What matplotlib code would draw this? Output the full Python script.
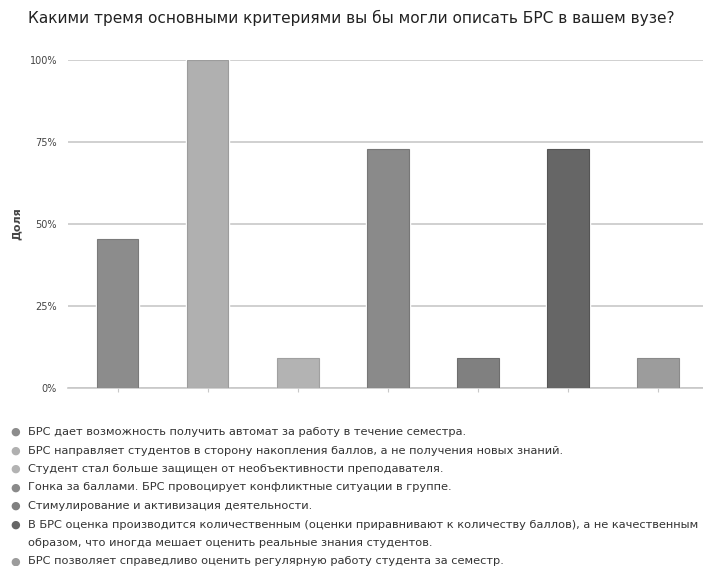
import matplotlib.pyplot as plt
from matplotlib.ticker import PercentFormatter

# Survey answers (share of respondents)
answers = [
    "БРС дает возможность получить автомат за работу в течение семестра.",
    "БРС направляет студентов в сторону накопления баллов, а не получения новых знаний.",
    "Студент стал больше защищен от необъективности преподавателя.",
    "Гонка за баллами. БРС провоцирует конфликтные ситуации в группе.",
    "Стимулирование и активизация деятельности.",
    "В БРС оценка производится количественным (оценки приравнивают к количеству баллов), а не качественным\nобразом, что иногда мешает оценить реальные знания студентов.",
    "БРС позволяет справедливо оценить регулярную работу студента за семестр.",
]
shares = [0.4545, 1.0, 0.0909, 0.7273, 0.0909, 0.7273, 0.0909]
colors = ["#8c8c8c", "#b0b0b0", "#b3b3b3", "#8a8a8a", "#808080", "#666666", "#9c9c9c"]
edges = ["#7a7a7a", "#9c9c9c", "#a0a0a0", "#777777", "#6e6e6e", "#555555", "#8a8a8a"]
yticks = [0, 0.25, 0.5, 0.75, 1.0]

title = "Какими тремя основными критериями вы бы могли описать БРС в вашем вузе?"

plt.rcParams['font.family'] = ['DejaVu Sans']

fig = plt.figure(figsize=(7.03, 5.66), dpi=100)
ax = fig.add_axes([0.097, 0.3145, 0.903, 0.5795])

x = list(range(len(shares)))
# thin white halo so the grid lines stop just short of the bars
ax.bar(x, shares, width=0.46, color="white", edgecolor="white", linewidth=2.5, zorder=2)
ax.bar(x, shares, width=0.46, color=colors, edgecolor=edges, linewidth=0.8, zorder=3)

ax.set_xlim(-0.55, 6.5)
ax.set_ylim(0, 1.0)
ax.set_yticks(yticks)
ax.yaxis.set_major_formatter(PercentFormatter(1.0, decimals=0))
ax.set_xticks(x)
ax.set_xticklabels([])
ax.grid(axis="y", color="#c8c8c8", linewidth=1.2, zorder=1)
ax.set_axisbelow(True)

for s in ["top", "right", "left"]:
    ax.spines[s].set_visible(False)
ax.spines["bottom"].set_color("#c8c8c8")
ax.spines["bottom"].set_linewidth(1.2)
ax.tick_params(axis="y", length=0, labelsize=7, labelcolor="#444444", pad=8)
ax.tick_params(axis="x", length=3, color="#c8c8c8", direction="out")

ax.set_ylabel("Доля", fontsize=8, fontweight="bold", color="#444444", labelpad=6)
fig.text(0.5, 0.968, title, ha="center", va="center", fontsize=11.1, color="#222222")

# legend drawn as a list below the chart
y = 432
for ans, c in zip(answers, colors):
    fig.text(15 / 703, 1 - y / 566, "●", ha="center", va="center", fontsize=8, color=c)
    for line in ans.split("\n"):
        fig.text(28 / 703, 1 - y / 566, line, ha="left", va="center", fontsize=8.2,
                 color="#333333")
        y += 18.5

fig.savefig("out.png", dpi=100)
